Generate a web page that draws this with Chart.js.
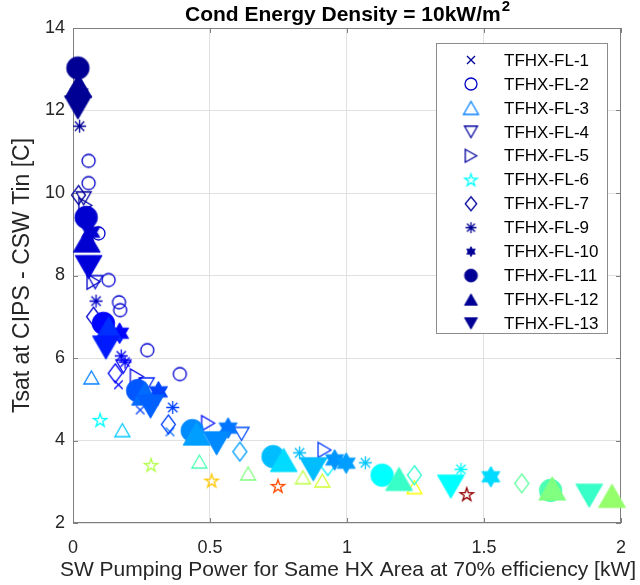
<!DOCTYPE html>
<html>
<head>
<meta charset="utf-8">
<script src="https://cdn.jsdelivr.net/npm/chart.js@4.4.1/dist/chart.umd.min.js"></script>
<style>
  html, body { margin: 0; padding: 0; background: #ffffff; }
  #wrap { width: 640px; height: 585px; }
</style>
</head>
<body>
<div id="wrap"><canvas id="chart" width="640" height="585"></canvas></div>
<script>
// ---------------------------------------------------------------------------
// Data: SW pumping power [kW], Tsat - CSW Tin [C] and a colour level
// (0..1 on the jet colour map) for every point of each heat-exchanger design.
// ---------------------------------------------------------------------------
const seriesNames = ['TFHX-FL-1', 'TFHX-FL-2', 'TFHX-FL-3', 'TFHX-FL-4', 'TFHX-FL-5', 'TFHX-FL-6',
                     'TFHX-FL-7', 'TFHX-FL-9', 'TFHX-FL-10', 'TFHX-FL-11', 'TFHX-FL-12', 'TFHX-FL-13'];

const fl1Power  = [0.02, 0.06, 0.166, 0.245, 0.354];
const fl1DeltaT = [12.3, 8.95, 5.35, 4.74, 4.21];
const fl1Level  = [0.02, 0.08, 0.13, 0.19, 0.23];

const fl2Power  = [0.057, 0.057, 0.093, 0.13, 0.168, 0.172, 0.271, 0.39];
const fl2DeltaT = [10.78, 10.24, 9.02, 7.89, 7.35, 7.16, 6.19, 5.61];
const fl2Level  = [0.07, 0.07, 0.08, 0.08, 0.08, 0.08, 0.08, 0.08];

const fl3Power  = [0.067, 0.18, 0.461, 0.639, 0.839, 0.91, 1.246];
const fl3DeltaT = [5.53, 4.25, 3.49, 3.2, 3.11, 3.03, 2.87];
const fl3Level  = [0.25, 0.32, 0.45, 0.5, 0.56, 0.58, 0.625];

const fl4Power  = [0.039, 0.081, 0.184, 0.269, 0.615];
const fl4DeltaT = [9.87, 7.84, 5.79, 5.36, 4.16];
const fl4Level  = [0.03, 0.08, 0.12, 0.16, 0.2];

const fl5Power  = [0.045, 0.075, 0.233, 0.493, 0.918];
const fl5DeltaT = [9.7, 7.85, 5.55, 4.42, 3.77];
const fl5Level  = [0.03, 0.07, 0.1, 0.14, 0.18];

const fl6Power  = [0.099, 0.285, 0.506, 0.748, 1.437];
const fl6DeltaT = [4.5, 3.41, 3.03, 2.9, 2.7];
const fl6Level  = [0.375, 0.55, 0.68, 0.8, 0.98];

const fl7Power  = [0.02, 0.075, 0.154, 0.348, 0.609, 0.93, 1.246, 1.638];
const fl7DeltaT = [9.95, 7.0, 5.63, 4.39, 3.73, 3.38, 3.16, 2.96];
const fl7Level  = [0.03, 0.08, 0.12, 0.19, 0.28, 0.36, 0.42, 0.47];

const fl9Power  = [0.024, 0.084, 0.176, 0.19, 0.364, 0.827, 1.067, 1.416];
const fl9DeltaT = [11.62, 7.38, 6.05, 5.9, 4.8, 3.7, 3.46, 3.3];
const fl9Level  = [0.02, 0.07, 0.11, 0.12, 0.19, 0.31, 0.32, 0.37];

const fl10Power  = [0.022, 0.065, 0.17, 0.312, 0.566, 0.955, 0.997, 1.525];
const fl10DeltaT = [12.4, 9.05, 6.6, 5.18, 4.3, 3.53, 3.45, 3.12];
const fl10Level  = [0.02, 0.08, 0.13, 0.19, 0.24, 0.27, 0.28, 0.34];

const fl11Power  = [0.018, 0.048, 0.111, 0.236, 0.435, 0.73, 1.128, 1.743];
const fl11DeltaT = [13.03, 9.41, 6.84, 5.21, 4.24, 3.61, 3.16, 2.79];
const fl11Level  = [0.02, 0.08, 0.13, 0.21, 0.26, 0.31, 0.375, 0.45];

const fl12Power  = [0.02, 0.05, 0.13, 0.263, 0.451, 0.769, 1.19, 1.749, 1.967];
const fl12DeltaT = [12.6, 8.85, 6.72, 5.14, 4.17, 3.53, 3.07, 2.84, 2.66];
const fl12Level  = [0.02, 0.08, 0.17, 0.23, 0.28, 0.34, 0.43, 0.5, 0.52];

const fl13Power  = [0.018, 0.057, 0.12, 0.283, 0.524, 0.877, 1.379, 1.884];
const fl13DeltaT = [12.07, 8.2, 6.25, 4.82, 3.93, 3.3, 2.88, 2.66];
const fl13Level  = [0.02, 0.09, 0.15, 0.22, 0.26, 0.31, 0.375, 0.43];

const xTicks = [0, 0.5, 1, 1.5, 2];
const yTicks = [2, 4, 6, 8, 10, 12, 14];

const powerSets  = [fl1Power, fl2Power, fl3Power, fl4Power, fl5Power, fl6Power, fl7Power, fl9Power, fl10Power, fl11Power, fl12Power, fl13Power];
const deltaTSets = [fl1DeltaT, fl2DeltaT, fl3DeltaT, fl4DeltaT, fl5DeltaT, fl6DeltaT, fl7DeltaT, fl9DeltaT, fl10DeltaT, fl11DeltaT, fl12DeltaT, fl13DeltaT];
const levelSets  = [fl1Level, fl2Level, fl3Level, fl4Level, fl5Level, fl6Level, fl7Level, fl9Level, fl10Level, fl11Level, fl12Level, fl13Level];

// ---------------------------------------------------------------------------
// Styling
// ---------------------------------------------------------------------------
const FONT = 'Arial, "Liberation Sans", Helvetica, sans-serif';
const seriesShapes = ['x', 'o', '^', 'v', '>', 'p', 'd', '*', 'h', 'O', 'A', 'V'];

// marker geometry: w/h on the plot, lw/lh in the legend
const MARKERS = {
  'x': { w: 8.5, h: 8.5, lw: 8, lh: 8, fill: false },
  'o': { w: 13, h: 13, lw: 12, lh: 12, fill: false },
  '^': { w: 15, h: 13, lw: 15, lh: 13, fill: false },
  'v': { w: 15, h: 13, lw: 13, lh: 11.5, fill: false },
  '>': { w: 13, h: 15, lw: 11.5, lh: 13, fill: false },
  'p': { w: 14, h: 14, lw: 13, lh: 13, fill: false },
  'd': { w: 14, h: 19, lw: 11.5, lh: 14, fill: false },
  '*': { w: 13, h: 13, lw: 11, lh: 11, fill: false },
  'h': { w: 21, h: 21, lw: 10, lh: 10, fill: true },
  'O': { w: 22.6, h: 22.6, lw: 13, lh: 13, fill: true },
  'A': { w: 27, h: 23.4, lw: 13, lh: 11.5, fill: true },
  'V': { w: 27, h: 23.4, lw: 13, lh: 11.5, fill: true }
};

function jet(v) {
  const c = t => Math.round(255 * Math.max(0, Math.min(1, t)));
  return 'rgb(' + c(1.5 - Math.abs(4 * v - 3)) + ',' + c(1.5 - Math.abs(4 * v - 2)) + ',' + c(1.5 - Math.abs(4 * v - 1)) + ')';
}

function tracePath(g, shape, w, h) {
  const a = w / 2, b = h / 2;
  g.beginPath();
  switch (shape) {
    case 'x':
      g.moveTo(-a, -b); g.lineTo(a, b); g.moveTo(a, -b); g.lineTo(-a, b); break;
    case 'o': case 'O':
      g.arc(0, 0, a, 0, Math.PI * 2); break;
    case '^': case 'A':
      g.moveTo(0, -b); g.lineTo(a, b); g.lineTo(-a, b); g.closePath(); break;
    case 'v': case 'V':
      g.moveTo(0, b); g.lineTo(a, -b); g.lineTo(-a, -b); g.closePath(); break;
    case '>':
      g.moveTo(a, 0); g.lineTo(-a, -b); g.lineTo(-a, b); g.closePath(); break;
    case 'd':
      g.moveTo(0, -b); g.lineTo(a, 0); g.lineTo(0, b); g.lineTo(-a, 0); g.closePath(); break;
    case 'p': {
      const R = b, r = R * 0.382;
      for (let k = 0; k < 10; k++) {
        const ang = -Math.PI / 2 + k * Math.PI / 5, rr = k % 2 ? r : R;
        const px = Math.cos(ang) * rr, py = Math.sin(ang) * rr + R * 0.1;
        k ? g.lineTo(px, py) : g.moveTo(px, py);
      }
      g.closePath(); break;
    }
    case 'h': {
      const R = a, r = R / Math.sqrt(3);
      for (let k = 0; k < 12; k++) {
        const ang = -Math.PI / 2 + k * Math.PI / 6, rr = k % 2 ? r : R;
        const px = Math.cos(ang) * rr, py = Math.sin(ang) * rr;
        k ? g.lineTo(px, py) : g.moveTo(px, py);
      }
      g.closePath(); break;
    }
    case '*': {
      const d = a * 0.72;
      g.moveTo(-a, 0); g.lineTo(a, 0); g.moveTo(0, -a); g.lineTo(0, a);
      g.moveTo(-d, -d); g.lineTo(d, d); g.moveTo(d, -d); g.lineTo(-d, d);
      break;
    }
  }
}

const markerCache = {};
function markerCanvas(shape, color, inLegend) {
  const key = shape + '|' + color + '|' + (inLegend ? 1 : 0);
  if (markerCache[key]) return markerCache[key];
  const m = MARKERS[shape];
  const w = inLegend ? m.lw : m.w, h = inLegend ? m.lh : m.h;
  const size = Math.ceil(Math.max(w, h) + 6);
  const cv = document.createElement('canvas');
  cv.width = size; cv.height = size;
  const g = cv.getContext('2d');
  g.translate(size / 2, size / 2);
  g.strokeStyle = color; g.fillStyle = color;
  g.lineJoin = 'miter';
  tracePath(g, shape, w, h);
  if (m.fill) { g.fill(); g.lineWidth = 0.8; g.stroke(); }
  else { g.lineWidth = 1.3; g.stroke(); }
  markerCache[key] = cv;
  return cv;
}

const datasets = seriesNames.map((name, i) => ({
  label: name,
  data: powerSets[i].map((p, j) => ({ x: p, y: deltaTSets[i][j] })),
  pointStyle: c => markerCanvas(seriesShapes[i], jet(levelSets[i][c.dataIndex != null ? c.dataIndex : 0]), false),
  pointRadius: 5,
  pointHoverRadius: 5,
  showLine: false,
  clip: false,
  order: seriesNames.length - i
}));

// Axes box with inward tick marks
const framePlugin = {
  id: 'frame',
  beforeDatasetsDraw(chart) {
    const { ctx, chartArea: a, scales } = chart;
    ctx.save();
    ctx.strokeStyle = '#7f7f7f';
    ctx.lineWidth = 1;
    ctx.strokeRect(Math.round(a.left) + 0.5, Math.round(a.top) + 0.5,
                   Math.round(a.right - a.left) - 1, Math.round(a.bottom - a.top) - 1);
    ctx.beginPath();
    xTicks.forEach(v => {
      const px = Math.round(scales.x.getPixelForValue(v)) + 0.5;
      ctx.moveTo(px, a.bottom); ctx.lineTo(px, a.bottom - 5);
      ctx.moveTo(px, a.top); ctx.lineTo(px, a.top + 5);
    });
    yTicks.forEach(v => {
      const py = Math.round(scales.y.getPixelForValue(v)) + 0.5;
      ctx.moveTo(a.left, py); ctx.lineTo(a.left + 5, py);
      ctx.moveTo(a.right, py); ctx.lineTo(a.right - 5, py);
    });
    ctx.stroke();
    ctx.restore();
  }
};

// Title centred over the plot area (with superscript exponent) and the
// x-axis caption, which is wider than the axis itself
const textPlugin = {
  id: 'plotTexts',
  afterDraw(chart) {
    const { ctx, chartArea: a } = chart;
    const cx = (a.left + a.right) / 2;
    const main = 'Cond Energy Density = 10kW/m', sup = '2';
    ctx.save();
    ctx.fillStyle = '#000000';
    ctx.textBaseline = 'alphabetic';
    ctx.font = 'bold 21px ' + FONT;
    const w1 = ctx.measureText(main).width;
    ctx.font = 'bold 15px ' + FONT;
    const w2 = ctx.measureText(sup).width;
    const x0 = cx - (w1 + w2) / 2;
    ctx.font = 'bold 21px ' + FONT;
    ctx.textAlign = 'left';
    ctx.fillText(main, x0, 21);
    ctx.font = 'bold 15px ' + FONT;
    ctx.fillText(sup, x0 + w1 + 1, 11);

    ctx.fillStyle = '#262626';
    ctx.font = '21px ' + FONT;
    ctx.textAlign = 'center';
    ctx.textBaseline = 'middle';
    ctx.fillText('SW Pumping Power for Same HX Area at 70% efficiency [kW]', cx + 1, 570);
    ctx.restore();
  }
};

// Boxed legend in the upper-right corner of the axes
const legendPlugin = {
  id: 'boxLegend',
  afterDraw(chart) {
    const { ctx } = chart;
    const x0 = 436, y0 = 43, x1 = 607, y1 = 333;
    ctx.save();
    ctx.fillStyle = '#ffffff';
    ctx.fillRect(x0, y0, x1 - x0, y1 - y0);
    ctx.strokeStyle = '#8c8c8c';
    ctx.lineWidth = 1;
    ctx.strokeRect(x0 + 0.5, y0 + 0.5, x1 - x0, y1 - y0);
    ctx.font = '17px ' + FONT;
    ctx.fillStyle = '#000000';
    ctx.textAlign = 'left';
    ctx.textBaseline = 'middle';
    seriesNames.forEach((name, i) => {
      const y = 60 + i * 23.95;
      const style = markerCanvas(seriesShapes[i], jet(levelSets[i][0]), true);
      Chart.helpers.drawPoint(ctx, { pointStyle: style, rotation: 0, radius: 5, borderWidth: 0 }, 471, y);
      ctx.fillText(name, 504, y + 1);
    });
    ctx.restore();
  }
};

new Chart(document.getElementById('chart'), {
  type: 'scatter',
  data: { datasets },
  options: {
    responsive: false,
    animation: false,
    devicePixelRatio: 1,
    events: [],
    layout: { padding: { left: 0, right: 18, top: 28, bottom: 0 } },
    plugins: {
      legend: { display: false },
      title: { display: false },
      tooltip: { enabled: false }
    },
    scales: {
      x: {
        type: 'linear', min: xTicks[0], max: xTicks[xTicks.length - 1],
        afterBuildTicks: s => { s.ticks = xTicks.map(v => ({ value: v })); },
        ticks: {
          font: { family: FONT, size: 18 }, color: '#262626', padding: 14, maxRotation: 0, autoSkip: false,
          callback: v => String(v)
        },
        grid: { color: '#e1e1e1', lineWidth: 1, drawTicks: false },
        border: { display: false },
        title: { display: false },
        afterFit: s => { s.height = 62; }
      },
      y: {
        type: 'linear', min: yTicks[0], max: yTicks[yTicks.length - 1],
        afterBuildTicks: s => { s.ticks = yTicks.map(v => ({ value: v })); },
        ticks: {
          font: { family: FONT, size: 18 }, color: '#262626', padding: 8, autoSkip: false,
          callback: v => String(v)
        },
        grid: { color: '#e1e1e1', lineWidth: 1, drawTicks: false },
        border: { display: false },
        title: {
          display: true, text: 'Tsat at CIPS - CSW Tin [C]',
          font: { family: FONT, size: 23 }, color: '#262626', padding: { top: 9, bottom: 0 }
        },
        afterFit: s => { s.width = 73; }
      }
    }
  },
  plugins: [framePlugin, textPlugin, legendPlugin]
});
</script>
</body>
</html>
